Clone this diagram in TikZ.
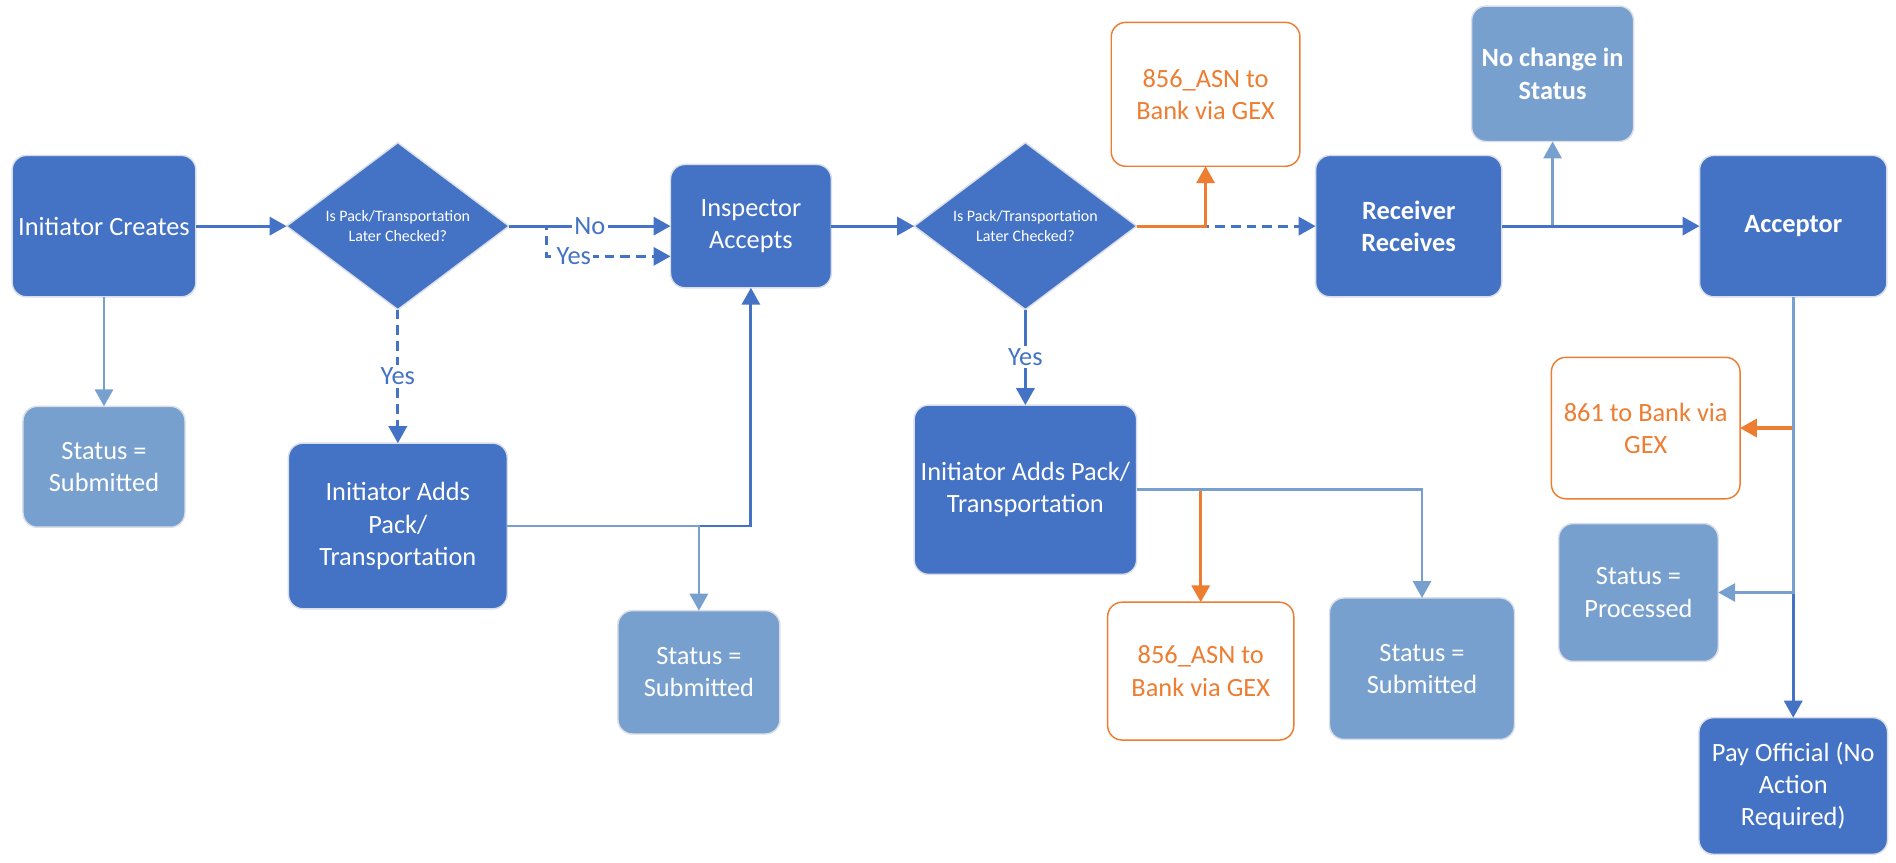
\documentclass[tikz,border=0pt]{standalone}
\usepackage{fontspec}
\setmainfont{Carlito}
\usetikzlibrary{shapes.geometric,arrows.meta,calc}
\definecolor{dblue}{HTML}{4472C4}
\definecolor{lblue}{HTML}{78A0CE}
\definecolor{orng}{HTML}{ED7D31}
\definecolor{bgray}{HTML}{D9DEE8}
\newcommand{\mainsz}{\fontsize{10.9pt}{13.3pt}\selectfont}
\newcommand{\smallsz}{\fontsize{6.6pt}{8pt}\selectfont}
\tikzset{
  dbox/.style={rectangle, rounded corners=6pt, fill=dblue, draw=bgray, line width=0.6pt,
    text=white, align=center, font=\mainsz, inner sep=2pt, outer sep=0pt},
  lbox/.style={dbox, fill=lblue},
  obox/.style={dbox, fill=white, draw=orng, text=orng},
  dec/.style={diamond, aspect=1.333, fill=dblue, draw=bgray, line width=0.6pt, text=white,
    font=\smallsz, align=center, inner sep=0pt, outer sep=0pt,
    minimum width=92pt, minimum height=69pt},
  tip/.style={-{Triangle[length=7pt,width=7.5pt]}},
  dline/.style={draw=dblue, line width=1.2pt, tip},
  lline/.style={draw=lblue, line width=1.1pt, tip},
  oline/.style={draw=orng, line width=1.3pt, tip},
  dashline/.style={dline, dash pattern=on 4pt off 2.5pt},
  lbl/.style={fill=white, text=dblue, font=\mainsz, inner sep=1pt},
}
\begin{document}
\begin{tikzpicture}[x=0.5pt,y=-0.5pt]
\useasboundingbox[fill=white] (0,0) rectangle (1568,713);

% nodes
\node[dbox, minimum width=76pt, minimum height=58.5pt] (ic) at (86,187) {Initiator Creates};
\node[lbox, minimum width=67pt, minimum height=50pt] (s1) at (86,386) {Status =\\Submitted};
\node[dec] (d1) at (329,187) {Is Pack/Transportation\\Later Checked?};
\node[dbox, minimum width=66.5pt, minimum height=51pt] (ia) at (621,187) {Inspector\\Accepts};
\node[dbox, minimum width=90.5pt, minimum height=68.5pt] (ad1) at (329,435) {Initiator Adds\\Pack/\\Transportation};
\node[lbox, minimum width=67pt, minimum height=51pt] (s2) at (578,556) {Status =\\Submitted};
\node[dec] (d2) at (848,187) {Is Pack/Transportation\\Later Checked?};
\node[obox, minimum width=78pt, minimum height=59.5pt] (a1) at (997,78) {856\_ASN to\\Bank via GEX};
\node[dbox, minimum width=77pt, minimum height=58.5pt, font=\mainsz\bfseries] (rr) at (1165,187) {Receiver\\Receives};
\node[lbox, minimum width=67pt, minimum height=56pt, font=\mainsz\bfseries] (nc) at (1284,61) {No change in\\Status};
\node[dbox, minimum width=77.5pt, minimum height=58.5pt, font=\mainsz\bfseries] (ac) at (1483,187) {Acceptor};
\node[obox, minimum width=78pt, minimum height=58.5pt] (b861) at (1361,354) {861 to Bank via\\GEX};
\node[lbox, minimum width=66pt, minimum height=57pt] (proc) at (1355,490) {Status =\\Processed};
\node[dbox, minimum width=78pt, minimum height=56.5pt] (po) at (1483,650) {Pay Official (No\\Action\\Required)};
\node[dbox, minimum width=92pt, minimum height=70pt] (ad2) at (848,405) {Initiator Adds Pack/\\Transportation};
\node[obox, minimum width=77pt, minimum height=57pt] (a2) at (993,555) {856\_ASN to\\Bank via GEX};
\node[lbox, minimum width=76.5pt, minimum height=58.5pt] (s3) at (1176,553) {Status =\\Submitted};

% connectors
\draw[dline] (ic.east) -- (d1.west);
\draw[lline] (ic.south) -- (s1.north);
\draw[dashline] (d1.east) -- ++(31,0) -- ++(0,25) -- node[lbl, pos=0.22] {Yes} ($(ia.west)+(0,25)$);
\draw[dline] (d1.east) -- node[lbl] {No} (ia.west);
\draw[dashline] (d1.south) -- node[lbl] {Yes} (ad1.north);
\draw[dline] (ad1.east) -| (ia.south);
\draw[lline] (ad1.east) -| (s2.north);
\draw[dline] (ia.east) -- (d2.west);
\draw[dashline] (d2.east) -- (rr.west);
\draw[oline] (d2.east) -| (a1.south);
\draw[dline] (d2.south) -- node[lbl] {Yes} (ad2.north);
\draw[oline] (ad2.east) -| (a2.north);
\draw[lline] (ad2.east) -| (s3.north);
\draw[lline] (rr.east) -| (nc.south);
\draw[dline] (rr.east) -- (ac.west);
\draw[dline] (ac.south) -- (po.north);
\draw[oline] (ac.south) |- (b861.east);
\draw[lline] (ac.south) |- (proc.east);
\end{tikzpicture}
\end{document}
